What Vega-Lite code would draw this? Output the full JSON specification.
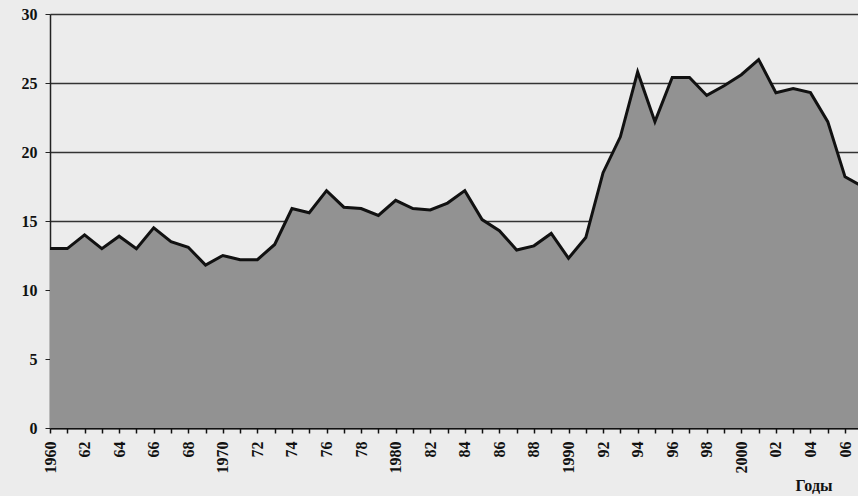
{
  "$schema": "https://vega.github.io/schema/vega-lite/v6.json",
  "width": 808,
  "height": 414,
  "autosize": "none",
  "padding": {"left": 50, "top": 14, "right": 0, "bottom": 68},
  "background": "#ececec",
  "config": {
    "view": {"stroke": null},
    "font": "Liberation Serif"
  },
  "data": {
    "values": [
      {"year": 1960, "v": 13.0}, {"year": 1961, "v": 13.0}, {"year": 1962, "v": 14.0},
      {"year": 1963, "v": 13.0}, {"year": 1964, "v": 13.9}, {"year": 1965, "v": 13.0},
      {"year": 1966, "v": 14.5}, {"year": 1967, "v": 13.5}, {"year": 1968, "v": 13.1},
      {"year": 1969, "v": 11.8}, {"year": 1970, "v": 12.5}, {"year": 1971, "v": 12.2},
      {"year": 1972, "v": 12.2}, {"year": 1973, "v": 13.3}, {"year": 1974, "v": 15.9},
      {"year": 1975, "v": 15.6}, {"year": 1976, "v": 17.2}, {"year": 1977, "v": 16.0},
      {"year": 1978, "v": 15.9}, {"year": 1979, "v": 15.4}, {"year": 1980, "v": 16.5},
      {"year": 1981, "v": 15.9}, {"year": 1982, "v": 15.8}, {"year": 1983, "v": 16.3},
      {"year": 1984, "v": 17.2}, {"year": 1985, "v": 15.1}, {"year": 1986, "v": 14.3},
      {"year": 1987, "v": 12.9}, {"year": 1988, "v": 13.2}, {"year": 1989, "v": 14.1},
      {"year": 1990, "v": 12.3}, {"year": 1991, "v": 13.8}, {"year": 1992, "v": 18.5},
      {"year": 1993, "v": 21.1}, {"year": 1994, "v": 25.8}, {"year": 1995, "v": 22.2},
      {"year": 1996, "v": 25.4}, {"year": 1997, "v": 25.4}, {"year": 1998, "v": 24.1},
      {"year": 1999, "v": 24.8}, {"year": 2000, "v": 25.6}, {"year": 2001, "v": 26.7},
      {"year": 2002, "v": 24.3}, {"year": 2003, "v": 24.6}, {"year": 2004, "v": 24.3},
      {"year": 2005, "v": 22.2}, {"year": 2006, "v": 18.2}, {"year": 2007, "v": 17.5}
    ]
  },
  "mark": {
    "type": "area",
    "clip": true,
    "color": "#929292",
    "opacity": 1,
    "line": {"color": "#111111", "strokeWidth": 3, "strokeJoin": "miter"}
  },
  "encoding": {
    "x": {
      "field": "year",
      "type": "quantitative",
      "scale": {"domain": [1960, 2006.75], "nice": false, "zero": false},
      "axis": {
        "values": [1960,1961,1962,1963,1964,1965,1966,1967,1968,1969,1970,1971,1972,1973,1974,1975,1976,1977,1978,1979,1980,1981,1982,1983,1984,1985,1986,1987,1988,1989,1990,1991,1992,1993,1994,1995,1996,1997,1998,1999,2000,2001,2002,2003,2004,2005,2006],
        "labelExpr": "datum.value % 2 ? '' : (datum.value % 10 == 0 ? toString(datum.value) : slice(toString(datum.value), 2))",
        "labelOverlap": false,
        "labelBound": false,
        "labelFlush": false,
        "labelAngle": 270,
        "labelAlign": "right",
        "labelBaseline": "middle",
        "labelFont": "Liberation Serif",
        "labelFontWeight": "bold",
        "labelFontSize": 16,
        "labelColor": "#111",
        "labelPadding": 8,
        "grid": false,
        "domainColor": "#111",
        "domainWidth": 2,
        "tickColor": "#111",
        "tickWidth": 1.5,
        "tickSize": 5,
        "title": "Годы",
        "titleFont": "Liberation Serif",
        "titleFontWeight": "bold",
        "titleFontSize": 16,
        "titleColor": "#111",
        "titleX": 782,
        "titleY": 62,
        "titleAlign": "right",
        "titleBaseline": "alphabetic"
      }
    },
    "y": {
      "field": "v",
      "type": "quantitative",
      "scale": {"domain": [0, 30], "nice": false},
      "axis": {
        "values": [0, 5, 10, 15, 20, 25, 30],
        "labelFont": "Liberation Serif",
        "labelFontWeight": "bold",
        "labelFontSize": 16,
        "labelColor": "#111",
        "labelPadding": 8,
        "grid": true,
        "gridColor": "#333",
        "gridWidth": 1.5,
        "domainColor": "#222",
        "domainWidth": 1.5,
        "tickColor": "#222",
        "tickSize": 5,
        "title": null
      }
    }
  }
}
